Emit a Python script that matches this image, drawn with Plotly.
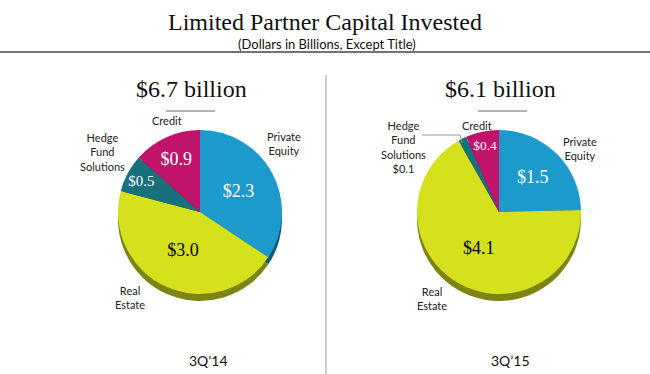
import plotly.graph_objects as go

W, H = 650, 374

# ---- data ----
categories = ["Private Equity", "Real Estate", "Hedge Fund Solutions", "Credit"]
values_3q14 = [2.3, 3.0, 0.5, 0.9]
values_3q15 = [1.5, 4.1, 0.1, 0.4]
period_labels = ["3Q\u201914", "3Q\u201915"]
totals = [6.7, 6.1]
title_text = "Limited Partner Capital Invested"
subtitle_text = "(Dollars in Billions, Except Title)"

colors = ["#1B9ACB", "#D5E11C", "#17707C", "#C0146B"]
shadow_colors = ["#0D5A78", "#7D8412", "#0C4249", "#700C3E"]
text_colors = ["white", "black", "white", "white"]

def px(x):
    return x / W

def py(y):
    return 1 - y / H

def dom(cx, cy, r, dy=0):
    return dict(x=[px(cx - r), px(cx + r)], y=[py(cy + dy + r), py(cy + dy - r)])

SERIF = "Liberation Serif"
SANS = "Lato"

fig = go.Figure()

pies = [
    (values_3q14, 200, 212, [True, True, True, True]),
    (values_3q15, 499, 212, [True, True, False, True]),
]
R = 82
for vals, cx, cy, show in pies:
    # side/shadow of the 3D pie
    fig.add_trace(go.Pie(
        labels=categories, values=vals, sort=False, direction="clockwise", rotation=0,
        marker=dict(colors=shadow_colors, line=dict(width=0)),
        textinfo="none", hoverinfo="skip", showlegend=False,
        domain=dom(cx, cy, R, dy=7),
    ))
    texts = [f"${v:.1f}" if s else "" for v, s in zip(vals, show)]
    fig.add_trace(go.Pie(
        labels=categories, values=vals, sort=False, direction="clockwise", rotation=0,
        marker=dict(colors=colors, line=dict(width=0)),
        text=texts, textinfo="text", textposition="inside",
        insidetextorientation="horizontal",
        insidetextfont=dict(family=SERIF, size=18, color=text_colors),
        showlegend=False, hoverinfo="label+value",
        domain=dom(cx, cy, R),
    ))

ann = []

def add_text(x, y, text, size, family, color="#222"):
    ann.append(dict(x=px(x), y=py(y), xref="paper", yref="paper", text=text,
                    showarrow=False, xanchor="center", yanchor="middle",
                    font=dict(family=family, size=size, color=color)))

add_text(325, 22, title_text, 24, SERIF, "#111")
add_text(327, 44, subtitle_text, 13, SANS, "#111")
add_text(191, 89, f"${totals[0]:.1f} billion", 24, SERIF, "#111")
add_text(500, 89, f"${totals[1]:.1f} billion", 24, SERIF, "#111")
add_text(208, 360, period_labels[0], 14, SANS, "#111")
add_text(510, 360, period_labels[1], 14, SANS, "#111")

LS = 11
# left pie category labels
add_text(167, 121, "Credit", LS, SANS)
add_text(102, 152, "Hedge<br>Fund<br>Solutions", LS, SANS)
add_text(284, 143, "Private<br>Equity", LS, SANS)
add_text(130, 297, "Real<br>Estate", LS, SANS)
# right pie category labels
add_text(477, 125, "Credit", LS, SANS)
add_text(403, 147, f"Hedge<br>Fund<br>Solutions<br>${values_3q15[2]:.1f}", LS, SANS)
add_text(580, 148, "Private<br>Equity", LS, SANS)
add_text(432, 298, "Real<br>Estate", LS, SANS)

shapes = [
    dict(type="line", xref="paper", yref="paper", x0=0, x1=1, y0=py(52), y1=py(52),
         line=dict(color="#444", width=1.5)),
    dict(type="line", xref="paper", yref="paper", x0=px(326), x1=px(326), y0=py(75), y1=0,
         line=dict(color="#999", width=1)),
    dict(type="line", xref="paper", yref="paper", x0=px(166), x1=px(215), y0=py(111), y1=py(111),
         line=dict(color="#999", width=1.5)),
    dict(type="line", xref="paper", yref="paper", x0=px(478), x1=px(527), y0=py(111), y1=py(111),
         line=dict(color="#999", width=1.5)),
    dict(type="path", xref="paper", yref="paper",
         path=f"M {px(422)} {py(135)} L {px(460)} {py(135)} L {px(462)} {py(143)}",
         line=dict(color="#999", width=1)),
]

fig.update_layout(
    width=W, height=H, margin=dict(l=0, r=0, t=0, b=0),
    paper_bgcolor="white", plot_bgcolor="white",
    annotations=ann, shapes=shapes, showlegend=False,
)

fig.write_html("out.html", config={"displayModeBar": False},
               post_script="document.body.style.margin='0';document.body.style.overflow='hidden';")
